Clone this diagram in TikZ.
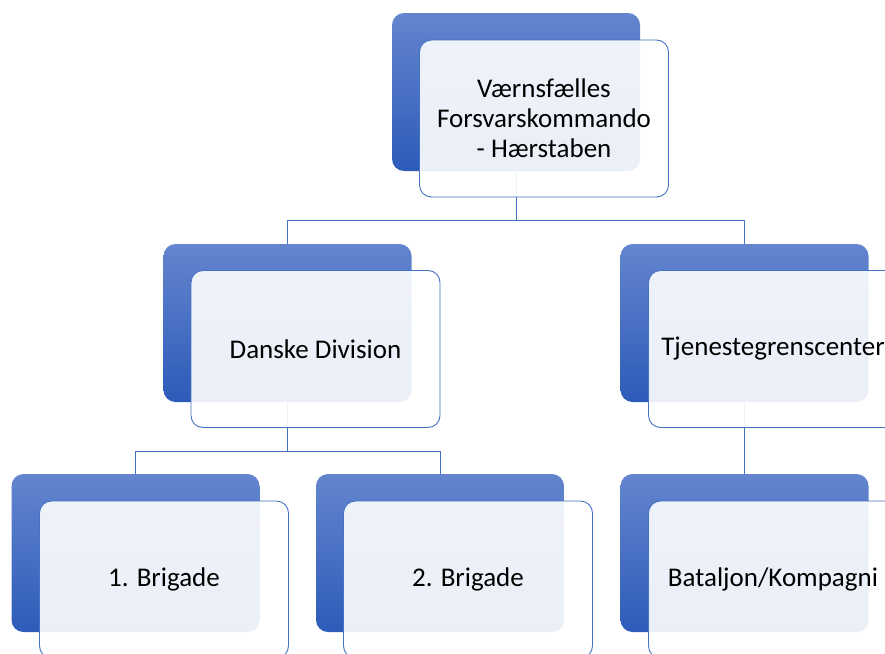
\documentclass[tikz,border=0pt]{standalone}
\usepackage{fontspec}
\setmainfont{Carlito}
\usetikzlibrary{calc}
\definecolor{acc}{RGB}{68,114,196}
\definecolor{gtop}{RGB}{100,133,206}
\definecolor{gbot}{RGB}{45,91,185}
\tikzset{
  backbox/.style={rectangle, rounded corners=12pt, minimum width=248pt, minimum height=158pt,
    inner sep=0pt, top color=gtop, bottom color=gbot, draw=none},
  frontbox/.style={rectangle, rounded corners=12pt, minimum width=249pt, minimum height=157pt,
    inner sep=0pt, draw=acc, line width=0.9pt, fill=white, fill opacity=0.9, text opacity=1,
    align=center, font=\fontsize{27}{30}\selectfont},
  conn/.style={draw=acc, line width=1pt}
}
\begin{document}
\begin{tikzpicture}[x=1pt,y=-1pt]
\useasboundingbox (0,0) rectangle (885,653);
% back boxes
\node[backbox] (topb) at (516,92) {};
\node[backbox] (danb) at (287.5,323) {};
\node[backbox] (tjeb) at (744.5,323) {};
\node[backbox] (b1b) at (135.5,553) {};
\node[backbox] (b2b) at (440,553) {};
\node[backbox] (batb) at (744.5,553) {};
% junction coordinates
\coordinate (j1) at (516,220.5);
\coordinate (j2) at (287.5,451);
% connectors
\draw[conn] (topb.south) -- (topb.south |- j1) -| (danb.north);
\draw[conn] (topb.south |- j1) -| (tjeb.north);
\draw[conn] (danb.south) -- (danb.south |- j2) -| (b1b.north);
\draw[conn] (danb.south |- j2) -| (b2b.north);
\draw[conn] (tjeb.south) -- (batb.north);
% front boxes
\node[frontbox] (topw) at (544,118.5) {Værnsfælles\\Forsvarskommando\\- Hærstaben};
\node[frontbox] (danw) at (315.5,349) {Danske Division};
\node[frontbox] (tjew) at (773,349) {Tjenestegrenscenter};
\node[frontbox] (b1w) at (164,579.5) {1. Brigade};
\node[frontbox] (b2w) at (468,579.5) {2. Brigade};
\node[frontbox] (batw) at (773,579.5) {Bataljon/Kompagni};
\end{tikzpicture}
\end{document}
